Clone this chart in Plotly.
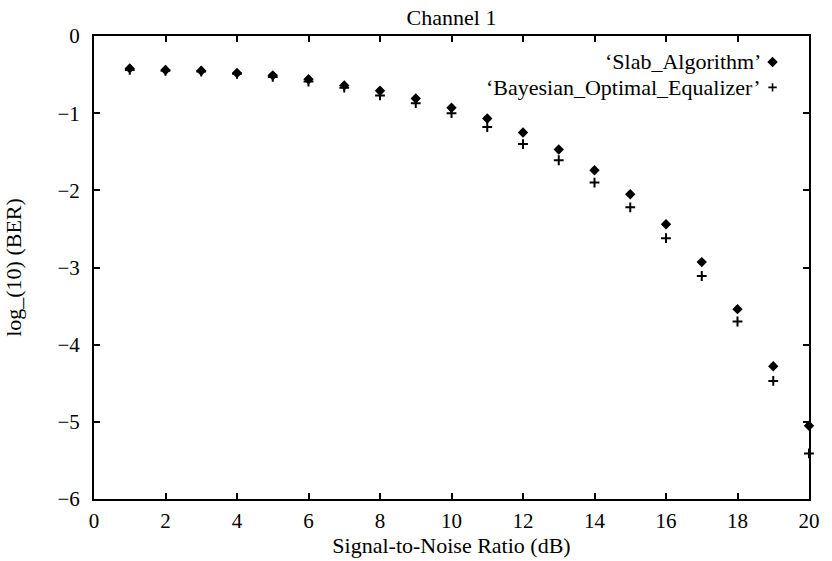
import plotly.graph_objects as go

snr = list(range(1, 21))
slab = [-0.42, -0.44, -0.45, -0.48, -0.51, -0.56, -0.64, -0.71, -0.81, -0.93,
        -1.07, -1.25, -1.47, -1.74, -2.05, -2.44, -2.93, -3.54, -4.28, -5.05]
bayes = [-0.44, -0.45, -0.46, -0.49, -0.53, -0.59, -0.67, -0.77, -0.87, -1.00,
         -1.18, -1.40, -1.61, -1.90, -2.22, -2.62, -3.11, -3.70, -4.47, -5.41]
series_names = ["\u2018Slab_Algorithm\u2019", "\u2018Bayesian_Optimal_Equalizer\u2019"]
x_ticks = [0, 2, 4, 6, 8, 10, 12, 14, 16, 18, 20]
y_ticks = [0, -1, -2, -3, -4, -5, -6]

FONT = "Liberation Serif, Times New Roman, serif"
FS = 21
FT = 22

diamond = dict(symbol="diamond", size=8, color="black")
cross = dict(symbol="cross-thin-open", size=7, color="black", line=dict(color="black", width=2))

fig = go.Figure()
fig.add_trace(go.Scatter(x=snr, y=bayes, mode="markers", marker=cross,
                         cliponaxis=False, showlegend=False, name=series_names[1]))
fig.add_trace(go.Scatter(x=snr, y=slab, mode="markers", marker=diamond,
                         cliponaxis=False, showlegend=False, name=series_names[0]))

# legend keys (layout positions on an invisible overlay axis)
leg_x = 0.949
leg_y = [0.944, 0.889]
fig.add_trace(go.Scatter(x=[leg_x], y=[leg_y[0]], mode="markers", marker=diamond,
                         xaxis="x2", yaxis="y2", showlegend=False, cliponaxis=False))
fig.add_trace(go.Scatter(x=[leg_x], y=[leg_y[1]], mode="markers",
                         marker=dict(symbol="cross-thin-open", size=6, color="black",
                                     line=dict(color="black", width=1.6)),
                         xaxis="x2", yaxis="y2", showlegend=False, cliponaxis=False))
for name, yy in zip(series_names, leg_y):
    fig.add_annotation(x=0.935, y=yy, xref="paper", yref="paper", text=name,
                       showarrow=False, xanchor="right", yanchor="middle",
                       font=dict(family=FONT, size=FT, color="black"))

axis_common = dict(showline=True, linecolor="black", linewidth=2, mirror="ticks",
                   ticks="inside", ticklen=6, tickwidth=2, tickcolor="black",
                   showgrid=False, zeroline=False,
                   tickfont=dict(family=FONT, size=FS, color="black"))

fig.update_layout(
    width=832, height=561,
    margin=dict(l=94, r=12, t=36, b=57),
    paper_bgcolor="white", plot_bgcolor="white",
    font=dict(family=FONT, size=FS, color="black"),
    title=dict(text="Channel 1", x=0.5, xref="paper", y=0.97, yanchor="middle",
               font=dict(family=FONT, size=FT, color="black")),
    xaxis=dict(range=[0, 20], tickvals=x_ticks, ticklabelstandoff=2,
               title=dict(text="Signal-to-Noise Ratio (dB)", standoff=0,
                          font=dict(family=FONT, size=FT, color="black")),
               **axis_common),
    yaxis=dict(range=[-6, 0], tickvals=y_ticks, ticklabelstandoff=8,
               title=dict(text="log_(10) (BER)", standoff=30,
                          font=dict(family=FONT, size=FT, color="black")),
               **axis_common),
    xaxis2=dict(range=[0, 1], visible=False, overlaying="x", anchor="y2"),
    yaxis2=dict(range=[0, 1], visible=False, overlaying="y", anchor="x2"),
)

fig.write_html("out.html")
